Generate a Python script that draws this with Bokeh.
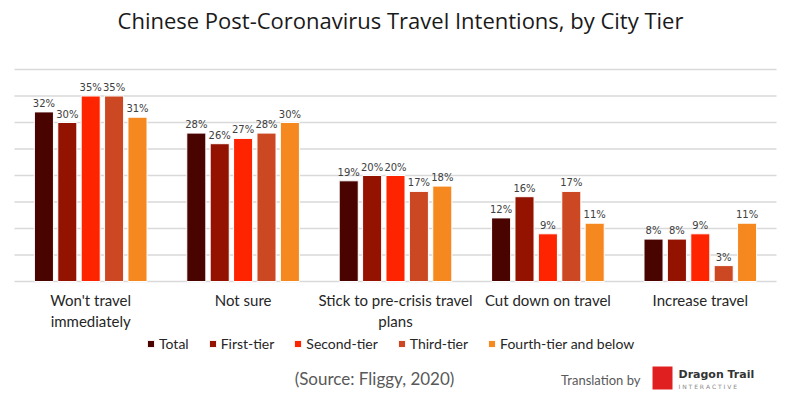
from bokeh.plotting import figure
from bokeh.models import ColumnDataSource, Range1d, Label, Legend, LegendItem, BoxAnnotation
from bokeh.core.properties import value
from bokeh.embed import file_html
from bokeh.resources import INLINE

categories = ["Won't travel\nimmediately", "Not sure", "Stick to pre-crisis travel\nplans", "Cut down on travel", "Increase travel"]
series_names = ["Total", "First-tier", "Second-tier", "Third-tier", "Fourth-tier and below"]
total = [32, 28, 19, 12, 8]
first_tier = [30, 26, 20, 16, 8]
second_tier = [35, 27, 20, 9, 9]
third_tier = [35, 28, 17, 17, 3]
fourth_tier = [31, 30, 18, 11, 11]
grid_levels = [0, 5, 10, 15, 20, 25, 30, 35, 40]
colors = ["#4a0400", "#931200", "#ff2400", "#cc4822", "#f5891f"]
series_values = [total, first_tier, second_tier, third_tier, fourth_tier]

W, H = 800, 394
p = figure(x_range=Range1d(-0.0919, 5.1575), y_range=Range1d(-21.32, 53.02),
           width=W, height=H, output_backend="svg", toolbar_location=None,
           min_border=0)
p.outline_line_color = None
p.axis.visible = False
p.grid.visible = False

n = len(categories)
centers = [i + 0.5 for i in range(n)]

# horizontal gridlines spanning the category band
p.segment(x0=[0] * len(grid_levels), x1=[n] * len(grid_levels), y0=grid_levels, y1=grid_levels,
          line_color="#d9d9d9", line_width=1.5)

step = 0.1535
offsets = [-2 * step, -step, 0, step, 2 * step]
items = []
for name, vals, col, off in zip(series_names, series_values, colors, offsets):
    xs = [c + off for c in centers]
    src = ColumnDataSource(dict(x=xs, v=vals, lab=[f"{x}%" for x in vals]))
    r = p.vbar(x="x", top="v", width=0.125, source=src,
               fill_color=col, line_color="white", line_width=1)
    p.text(x="x", y="v", text="lab", source=src,
           text_align="center", text_baseline="bottom", y_offset=-3,
           text_font=value("DejaVu Sans"), text_font_size="10px", text_color="#404040")
    items.append(LegendItem(label=name, renderers=[r]))

# category labels
p.text(x=centers, y=[0] * n, text=categories, text_align="center", text_baseline="top",
       y_offset=9, text_font=value("Lato"), text_font_size="15px", text_color="#262626",
       text_line_height=1.2)

legend = Legend(items=items, orientation="horizontal", location=(146, 42),
                glyph_width=9, glyph_height=9, label_text_font="Lato",
                label_text_font_size="14px", label_text_color="#262626",
                spacing=19, label_standoff=4, padding=4, border_line_color=None,
                background_fill_alpha=0, label_height=9)
p.add_layout(legend, "center")

p.add_layout(Label(x=400, y=375, x_units="screen", y_units="screen",
                   text="Chinese Post-Coronavirus Travel Intentions, by City Tier",
                   text_align="center", text_baseline="middle", text_font="Open Sans",
                   text_font_size="22px", text_color="#1a1a1a"))
p.add_layout(Label(x=374, y=16, x_units="screen", y_units="screen",
                   text="(Source: Fliggy, 2020)", text_align="center", text_baseline="middle",
                   text_font="Lato", text_font_size="17px", text_color="#595959"))
p.add_layout(Label(x=640, y=15, x_units="screen", y_units="screen",
                   text="Translation by", text_align="right", text_baseline="middle",
                   text_font="Lato", text_font_size="13px", text_color="#595959"))
p.add_layout(BoxAnnotation(left=652, right=672, top=28, bottom=5,
                           left_units="screen", right_units="screen", top_units="screen", bottom_units="screen",
                           fill_color="#e02020", fill_alpha=1, line_color=None))
p.add_layout(Label(x=678, y=20, x_units="screen", y_units="screen",
                   text="Dragon Trail", text_align="left", text_baseline="middle",
                   text_font="DejaVu Sans", text_font_style="bold", text_font_size="11px", text_color="#333333"))
p.add_layout(Label(x=678, y=8, x_units="screen", y_units="screen",
                   text="I N T E R A C T I V E", text_align="left", text_baseline="middle",
                   text_font="DejaVu Sans", text_font_size="6px", text_color="#888888"))

open("out.html", "w").write(file_html(p, INLINE))
